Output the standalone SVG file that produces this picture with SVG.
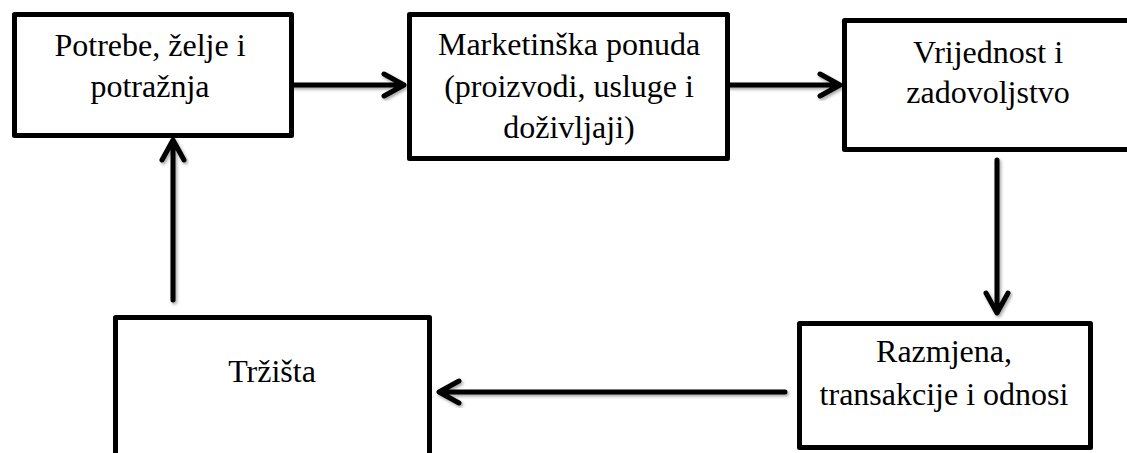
<svg xmlns="http://www.w3.org/2000/svg" width="1127" height="453" viewBox="0 0 1127 453">
<defs>
<style>
.box{fill:#fff;stroke:#000;stroke-width:5;stroke-linejoin:round}
.lbl{font-family:"Liberation Serif","Times New Roman",serif;font-size:32px;fill:#000;text-anchor:middle}
.arr{fill:none;stroke:#000;stroke-width:5;stroke-linecap:round;stroke-linejoin:round;filter:url(#sh)}
</style>
<filter id="sh" x="-20%" y="-20%" width="140%" height="140%">
<feDropShadow dx="1.5" dy="2" stdDeviation="1.5" flood-color="#000" flood-opacity="0.35"/>
</filter>
</defs>
<rect width="1127" height="453" fill="#fff"/>
<g id="connectors">
<path class="arr" d="M293 85H403M384 74L404 85L384 96"/>
<path class="arr" d="M729 85H839M820 74L840 85L820 96"/>
<path class="arr" d="M997 160V312M986 293L997 313L1008 293"/>
<path class="arr" d="M785 392H440M459 381L439 392L459 403"/>
<path class="arr" d="M173 300V141M162 160L173 140L184 160"/>
</g>
<g id="n1">
<rect class="box" x="14.5" y="14.5" width="277" height="121"/>
<text class="lbl" x="150" y="56">Potrebe, želje i</text>
<text class="lbl" x="150" y="97">potražnja</text>
</g>
<g id="n2">
<rect class="box" x="409.5" y="14.5" width="318" height="144"/>
<text class="lbl" x="569" y="55">Marketinška ponuda</text>
<text class="lbl" x="569" y="97">(proizvodi, usluge i</text>
<text class="lbl" x="569" y="138">doživljaji)</text>
</g>
<g id="n3">
<rect class="box" x="844.5" y="20.5" width="300" height="129"/>
<text class="lbl" x="988" y="63">Vrijednost i</text>
<text class="lbl" x="988" y="103">zadovoljstvo</text>
</g>
<g id="n4">
<rect class="box" x="799.5" y="323.5" width="291" height="124"/>
<text class="lbl" x="944" y="362">Razmjena,</text>
<text class="lbl" x="944" y="405">transakcije i odnosi</text>
</g>
<g id="n5">
<rect class="box" x="115.5" y="317.5" width="314" height="150"/>
<text class="lbl" x="272" y="382">Tržišta</text>
</g>
</svg>
